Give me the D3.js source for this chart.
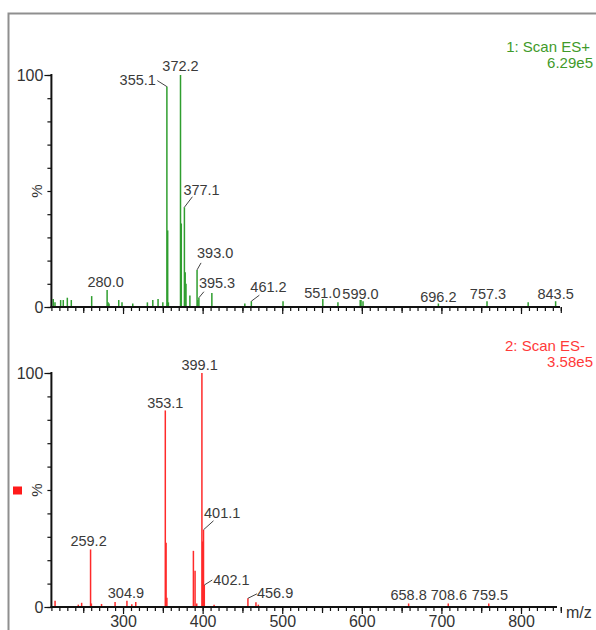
<!DOCTYPE html>
<html><head><meta charset="utf-8">
<script src="https://cdn.jsdelivr.net/npm/d3@7"></script>
<style>body{margin:0;background:#fff}svg{display:block}text{font-family:"Liberation Sans",Arial,sans-serif}</style>
</head><body><svg id="c" width="596" height="630"></svg>
<script>
// ---- data ----
const posMz  = [212.3,214.5,221.6,224.9,230,235,260.6,280.0,281.2,282.4,294.6,298.7,312.2,330.6,337.4,344,350,355.1,356.1,357,372.2,373.2,377.1,378.1,379.1,384,393.0,394,395.3,411.6,453,461.2,501,551.0,570,598,599.0,601.5,696.2,757.3,809,843.5];
const posInt = [3.5,2,3,3,4,3,4.7,7.3,2,1.5,3,2,1.5,2,3,3.5,2,95,33,2,100,36,43,15,10,5,16,3,4,6,1.5,2.5,2.5,3.5,2,3,3,2.5,1.5,2.5,2,2.5];
const negMz  = [214.6,243.8,248,259.2,260.2,273,290,304.9,311,316,353.1,354.1,355.1,388.4,390.5,392.6,399.1,400.1,401.1,402.1,414.4,456.9,467,470,658.8,708.6,759.5];
const negInt = [2.7,1,1.8,24.6,1.5,1.3,2.1,2.7,1.2,2.1,84,27.5,4,24,15.5,1.5,100,28,33,9.4,1,3.7,2,1,1.5,1.5,1.5];
const posLabels = ["355.1","372.2","377.1","393.0","395.3","280.0","461.2","551.0","599.0","696.2","757.3","843.5"];
const negLabels = ["353.1","399.1","401.1","402.1","259.2","304.9","456.9","658.8","708.6","759.5"];
const xTicks = [300,400,500,600,700,800];
const yTicks = [0,100];
const panelTitles = [["1: Scan ES+","6.29e5"],["2: Scan ES-","3.58e5"]];

// ---- layout: text offset [dx,dy] from peak top; optional leader end and anchor ----
const posLayout = {
  "355.1":{t:[-11,-2],l:[-9.6,-6],a:"end"},
  "372.2":{t:[0,-4]},
  "377.1":{t:[-1,-12],l:[8,-10.5],a:"start"},
  "393.0":{t:[0,-12],l:[4,-7],a:"start"},
  "395.3":{t:[0,-10],l:[5,-6],a:"start"},
  "280.0":{t:[-1.5,-3]},
  "461.2":{t:[-1,-9],l:[8,-6],a:"start"},
  "551.0":{t:[-0.5,-0.5]},
  "599.0":{t:[-0.5,-1.5]},
  "696.2":{t:[0,-1.5]},
  "757.3":{t:[1,-2.7]},
  "843.5":{t:[0,-2.7]}
};
const negLayout = {
  "353.1":{t:[0,-2.4]},
  "399.1":{t:[-2.3,-3]},
  "401.1":{t:[0.5,-12],l:[10,-9],a:"start"},
  "402.1":{t:[9,0],l:[8,-5],a:"start"},
  "259.2":{t:[-2,-3.4]},
  "304.9":{t:[-1,-2.7]},
  "456.9":{t:[9,0],l:[9,-4.5],a:"start"},
  "658.8":{t:[0,-3.5]},
  "708.6":{t:[0.7,-3.5]},
  "759.5":{t:[1.2,-3.5]}
};

const svg = d3.select("#c");
svg.append("path").attr("d","M8.5,630 V13.5 H596").attr("fill","none").attr("stroke","#8f8f8f").attr("stroke-width",2);

const x = d3.scaleLinear().domain([210,850]).range([51.4,560.8]);

function panel(cfg){
  const y = d3.scaleLinear().domain([0,100]).range([cfg.y0,cfg.y100]);
  const g = svg.append("g");
  g.selectAll("line.pk").data(cfg.mz.map((m,i)=>({m,v:cfg.int[i]}))).join("line")
    .attr("class","pk").attr("x1",d=>x(d.m)).attr("x2",d=>x(d.m))
    .attr("y1",y(0)).attr("y2",d=>y(d.v)).attr("stroke",cfg.bar).attr("stroke-width",1.5);
  const mk=(vals,size,fmt)=>{
    const a=g.append("g").attr("transform",`translate(0,${y(0)})`)
      .call(d3.axisBottom(x).tickValues(vals).tickSize(size).tickPadding(2).tickFormat(fmt));
    a.select(".domain").remove();
    a.selectAll("line").attr("stroke","#111").attr("stroke-width",1.2);
    a.selectAll("text").attr("fill","#333").style("font-size","16px").attr("dy","0.68em");
    return a;
  };
  mk(d3.range(210,851,10),4,"");
  mk(d3.range(250,851,100),6,"");
  mk(xTicks,7,cfg.xlabels?d3.format("d"):"");
  g.append("line").attr("x1",x.range()[0]-1).attr("x2",cfg.xend).attr("y1",y(0)).attr("y2",y(0))
    .attr("stroke","#111").attr("stroke-width",2);
  const ya=g.append("g").attr("transform",`translate(${x.range()[0]},0)`)
    .call(d3.axisLeft(y).tickValues(d3.range(0,101,10)).tickSize(4).tickFormat(""));
  ya.select(".domain").remove();
  ya.selectAll("line").attr("stroke","#111").attr("stroke-width",1.2);
  const yb=g.append("g").attr("transform",`translate(${x.range()[0]},0)`)
    .call(d3.axisLeft(y).tickValues(yTicks).tickSize(7).tickPadding(1).tickFormat(d3.format("d")));
  yb.select(".domain").remove();
  yb.selectAll("line").attr("stroke","#111").attr("stroke-width",1.2);
  yb.selectAll("text").attr("fill","#333").style("font-size","16px");
  g.append("line").attr("x1",x.range()[0]).attr("x2",x.range()[0]).attr("y1",y(100)-1).attr("y2",y(0)+1)
    .attr("stroke","#111").attr("stroke-width",2);
  g.append("text").attr("transform",`translate(${x.range()[0]-9},${y(50)}) rotate(-90)`)
    .attr("text-anchor","middle").attr("fill","#333").style("font-size","15px").text("%");
  g.append("text").attr("x",cfg.t1x).attr("y",cfg.t1y).attr("text-anchor","end").attr("fill",cfg.title)
    .style("font-size","15px").text(cfg.titles[0]);
  g.append("text").attr("x",593).attr("y",cfg.t1y+16).attr("text-anchor","end").attr("fill",cfg.title)
    .style("font-size","15px").text(cfg.titles[1]);
  cfg.labels.forEach(l=>{
    const m=+l, i=cfg.mz.indexOf(m), v=cfg.int[i];
    const L=cfg.layout[l];
    const px=x(m), py=y(v);
    if(L.l){
      g.append("line").attr("x1",px).attr("y1",py).attr("x2",px+L.l[0]).attr("y2",py+L.l[1])
        .attr("stroke","#444").attr("stroke-width",1);
    }
    g.append("text").attr("x",px+L.t[0]).attr("y",py+L.t[1])
      .attr("text-anchor",L.a||"middle").attr("fill","#3a3a3a").style("font-size","14.5px").text(l);
  });
}

panel({mz:posMz,int:posInt,y0:307,y100:75,bar:"#2f9e2f",title:"#3f9a2a",titles:panelTitles[0],
  labels:posLabels,layout:posLayout,xlabels:false,t1x:590,t1y:52,xend:560});
panel({mz:negMz,int:negInt,y0:607,y100:373,bar:"#ff2a2a",title:"#ff3a3a",titles:panelTitles[1],
  labels:negLabels,layout:negLayout,xlabels:true,t1x:585,t1y:351,xend:557});

svg.append("text").attr("x",566).attr("y",618).attr("fill","#333").style("font-size","16px").text("m/z");
svg.append("rect").attr("x",13).attr("y",486.5).attr("width",9).attr("height",8).attr("fill","#ff1a1a");
</script></body></html>
